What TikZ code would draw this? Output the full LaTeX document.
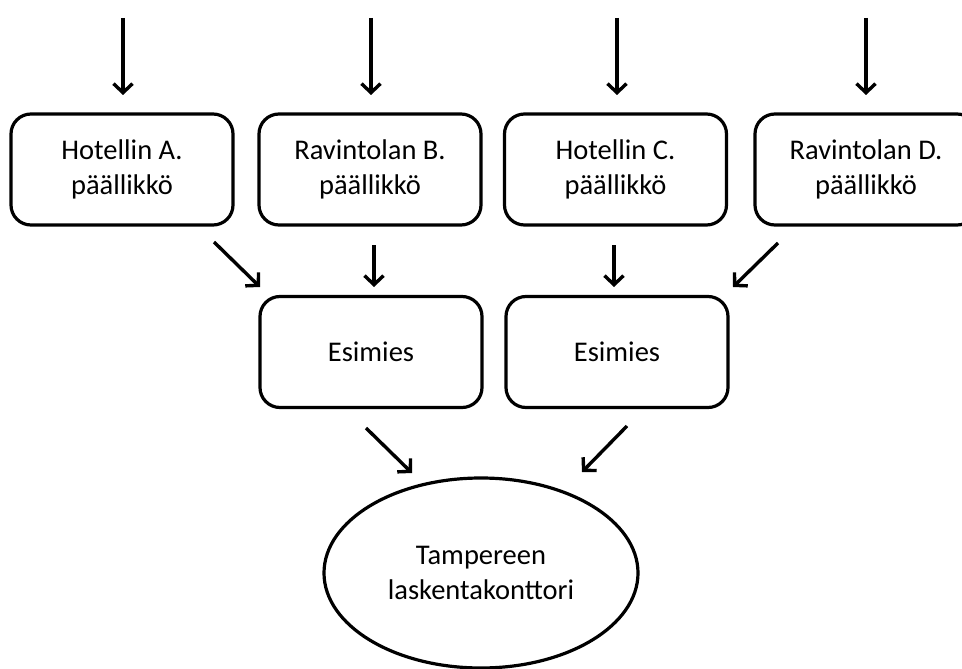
\documentclass[tikz,border=0pt]{standalone}
\usepackage{fontspec}
\setmainfont{Carlito}
\usetikzlibrary{arrows.meta,shapes.geometric}
\begin{document}
\begin{tikzpicture}[x=1pt,y=-1pt,
  box/.style={draw,line width=3.2pt,rounded corners=20pt,minimum width=222pt,minimum height=111pt,align=center,inner sep=0pt,font=\fontsize{28.5}{35}\selectfont},
  oval/.style={draw,ellipse,line width=3.2pt,minimum width=314pt,minimum height=190pt,align=center,inner sep=0pt,font=\fontsize{28.5}{35}\selectfont},
  arr/.style={line width=3.4pt,-{Straight Barb[length=9pt,width=19pt,line width=3.4pt]}}]
\useasboundingbox (0,0) rectangle (962,669);
\clip (0,0) rectangle (962,669);
\node[box] (a) at (122,169.5) {Hotellin A.\\päällikkö};
\node[box] (b) at (370,169.5) {Ravintolan B.\\päällikkö};
\node[box] (c) at (615.5,169.5) {Hotellin C.\\päällikkö};
\node[box] (d) at (866,169.5) {Ravintolan D.\\päällikkö};
\node[box] (e1) at (371,352) {Esimies};
\node[box] (e2) at (617,352) {Esimies};
\node[oval] (t) at (481,573) {Tampereen\\laskentakonttori};
% top free ends
\coordinate (ta) at (123,18);  \coordinate (ta2) at (123,95);
\coordinate (tb) at (371,18);  \coordinate (tb2) at (371,95);
\coordinate (tc) at (617,18);  \coordinate (tc2) at (617,95);
\coordinate (td) at (866,18);  \coordinate (td2) at (866,95);
\draw[arr] (ta) -- (ta2);
\draw[arr] (tb) -- (tb2);
\draw[arr] (tc) -- (tc2);
\draw[arr] (td) -- (td2);
% to supervisors
\coordinate (a1) at (214,242); \coordinate (a2) at (260,287);
\coordinate (b1) at (374,245); \coordinate (b2) at (374,287);
\coordinate (c1) at (614,245); \coordinate (c2) at (614,287);
\coordinate (d1) at (778,243); \coordinate (d2) at (733,287);
\draw[arr] (a1) -- (a2);
\draw[arr] (b1) -- (b2);
\draw[arr] (c1) -- (c2);
\draw[arr] (d1) -- (d2);
% to office
\coordinate (e11) at (366,428); \coordinate (e12) at (412,473);
\coordinate (e21) at (627,426); \coordinate (e22) at (582,472);
\draw[arr] (e11) -- (e12);
\draw[arr] (e21) -- (e22);
\end{tikzpicture}
\end{document}
